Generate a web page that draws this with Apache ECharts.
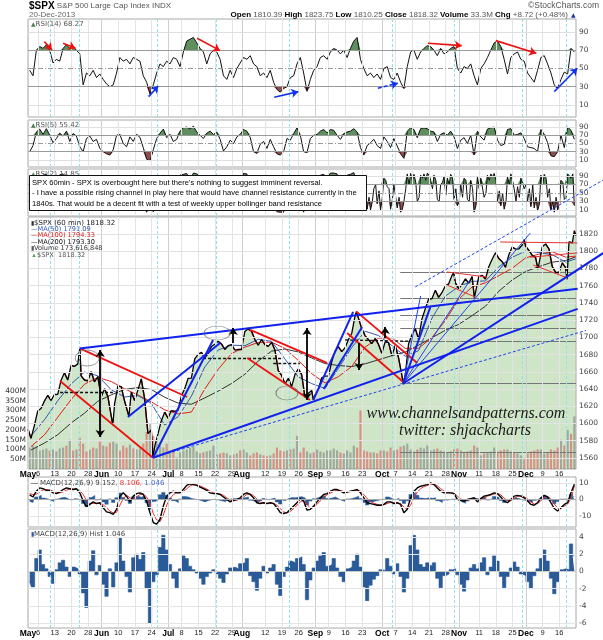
<!DOCTYPE html>
<html><head><meta charset="utf-8">
<script src="https://cdn.jsdelivr.net/npm/echarts@6/dist/echarts.min.js"></script>
<style>html,body{margin:0;padding:0;background:#fff}#c{width:603px;height:640px}</style>
</head><body><div id="c"></div>
<script>
// ---------- DATA (trading-day index 0 = 1 May 2013 ... 163 = 20 Dec 2013) ----------
const tickDays = [0,3,8,13,18,22,27,32,37,42,46,51,56,61,64,71,76,81,86,90,95,100,106,110,115,120,125,129,135,140,145,149,154,159];
const tickLabels = ['May','6','13','20','28','Jun','10','17','24','Jul','8','15','22','29','Aug','12','19','26','Sep','9','16','23','Oct','7','14','21','28','Nov','11','18','25','Dec','9','16'];
const monthNames = ['May','Jun','Jul','Aug','Sep','Oct','Nov','Dec'];
const cyanDays = [6.6,15.3,38.6,56.3,78.1,109,127.5,147.9,161.2];

const closes = [1582.7,1597.6,1614.4,1617.5,1626.0,1632.7,1626.7,1633.7,1633.8,1650.3,
 1658.8,1650.5,1667.5,1666.3,1669.2,1655.4,1650.5,1649.6,1660.1,1648.4,
 1654.4,1630.7,1640.4,1631.4,1608.9,1622.6,1643.4,1642.8,1626.1,1612.5,
 1636.4,1626.7,1639.0,1651.8,1628.9,1588.2,1592.4,1573.1,1588.0,1603.3,
 1613.2,1606.3,1615.0,1614.1,1615.4,1631.9,1640.5,1652.3,1652.6,1675.0,
 1680.2,1682.5,1676.3,1680.9,1689.4,1692.1,1695.5,1692.4,1685.9,1690.3,
 1691.7,1685.3,1686.0,1685.7,1706.9,1709.7,1707.1,1697.4,1690.9,1697.5,
 1691.4,1689.5,1694.2,1685.4,1661.3,1655.8,1646.1,1652.4,1642.8,1657.0,
 1663.5,1656.8,1630.5,1635.0,1638.2,1633.0,1639.8,1653.1,1655.1,1655.2,
 1671.7,1684.0,1689.1,1683.4,1688.0,1697.6,1704.8,1725.5,1722.3,1709.9,
 1701.8,1697.4,1692.8,1698.7,1691.8,1681.6,1695.0,1693.9,1678.7,1690.5,
 1676.1,1655.5,1656.4,1692.6,1703.2,1710.1,1698.1,1721.5,1733.2,1744.5,
 1744.7,1754.7,1746.4,1752.1,1759.8,1762.1,1772.0,1763.3,1756.5,1761.6,
 1767.9,1763.0,1770.5,1747.2,1770.6,1771.9,1767.7,1782.0,1790.6,1798.2,
 1791.5,1787.9,1781.4,1795.9,1804.8,1802.5,1802.8,1807.2,1805.8,1800.9,
 1795.2,1792.8,1785.0,1805.1,1808.4,1802.6,1782.2,1775.5,1775.3,1786.5,
 1781.0,1810.7,1809.6,1818.3];
// intraday extremes [day, price]
const pivots = [[0.05,1593],[15.5,1687.18],[25.4,1598.23],[30.2,1608.07],[37.4,1560.33],[65.8,1709.67],[85.4,1627.47],[98.3,1729.86],[112.3,1646.47],[127.4,1775.22],[133.6,1746.20],[148.5,1813.55],[152.6,1779.09],[161.3,1767.39],[163.5,1823.75]];

const maDays = [0,4,8,12,16,20,24,28,32,36,40,44,48,52,56,60,64,68,72,76,80,84,88,92,96,100,104,108,112,116,120,124,128,132,136,140,144,148,152,156,160,163];
const ma50 = [1585.6,1604.2,1626.4,1645.9,1659.7,1655.4,1639.2,1630.8,1632.4,1623.3,1598.2,1607.9,1631.7,1665.6,1685.3,1691.0,1690.3,1697.7,1695.4,1674.8,1654.1,1646.3,1640.7,1664.0,1688.4,1707.1,1702.1,1690.4,1678.0,1684.6,1722.2,1747.9,1758.9,1765.0,1765.5,1781.8,1792.9,1800.1,1798.5,1795.9,1787.4,1791.1];
const ma100 = [1573.3,1586.7,1607.3,1627.8,1645.6,1653.5,1648.8,1640.3,1633.1,1625.1,1615.9,1611.1,1613.3,1639.9,1662.8,1681.2,1688.6,1694.1,1694.5,1687.1,1673.2,1657.8,1647.1,1654.4,1666.3,1688.7,1699.1,1699.4,1687.2,1687.3,1699.9,1719.5,1744.2,1758.5,1763.3,1771.6,1780.2,1792.2,1796.6,1799.4,1793.1,1794.3];
const ma200 = [1569.2,1577.3,1587.0,1600.6,1612.0,1625.9,1633.2,1639.6,1641.7,1639.4,1630.5,1623.7,1622.4,1629.7,1637.6,1646.4,1657.2,1672.5,1684.0,1686.5,1683.0,1676.0,1669.6,1667.3,1666.1,1669.3,1674.0,1678.7,1683.0,1690.9,1699.6,1708.2,1715.1,1725.2,1736.2,1753.5,1766.6,1776.4,1782.1,1787.3,1789.2,1793.3];

const volumeM = [110,120,115,95,100,105,95,100,90,105,110,120,150,95,100,160,130,90,100,110,105,140,
 120,115,135,140,130,95,120,110,125,105,100,105,130,190,230,170,140,120,110,130,
 90,100,60,85,95,100,110,115,90,80,85,90,95,120,75,80,85,80,70,75,80,95,
 100,85,70,80,85,75,70,65,70,80,110,95,90,95,100,105,170,85,110,90,80,85,
 100,90,85,95,95,105,95,85,80,95,85,120,110,300,95,90,85,85,80,95,
 95,90,110,95,100,115,120,130,100,90,100,110,105,120,95,100,105,95,90,85,90,100,105,
 95,85,90,95,120,110,70,80,85,90,110,90,95,100,100,90,85,80,70,50,
 80,90,95,100,100,80,85,100,95,110,150,120,200,180,270];

const rsi14 = [48,42,70,74,72,76,70,56,60,58, 72,76,72,74,70,66,32,45,42,48, 40,44,38,33,30,32,45,62,58,60,
 55,62,60,58,42,35,22,32,45,55, 52,58,55,62,60,52,68,80,82,84, 78,72,68,55,66,70,68,60,42,38,
 48,40,50,56,62,60,64,55,52,42, 45,40,48,35,27,24,28,30,40,42, 55,62,45,25,38,48,52,62,64,60,
 68,72,70,66,70,62,72,80,84,60, 50,42,45,40,44,38,50,52,40,38, 45,35,28,52,68,70,60,68,72,75,
 74,70,64,72,66,68,72,74,50,45, 52,50,55,42,32,50,55,62,70,78, 80,74,60,44,62,66,68,60,58,45,
 40,35,48,62,64,55,45,32,28,38, 46,44,72,68];
const rsi5 = [30,45,78,85,72,86,70,52,62,75, 68,80,55,74,68,42,30,62,68,55, 60,38,30,25,22,35,70,72,50,42,
 66,55,72,65,40,12,8,35,62,75, 85,64,72,55,60,80,88,90,85,92, 78,70,62,75,80,72,78,60,32,42,
 58,50,66,72,84,80,65,30,26,48, 55,38,60,42,25,22,30,62,58,74, 88,70,30,28,62,70,72,80,84,76,
 84,82,70,60,74,78,80,86,78,40, 22,45,52,60,45,38,66,55,40,62, 44,25,14,80,88,84,64,86,88,86,
 80,78,55,72,76,70,80,66,38,58, 64,50,70,22,80,66,58,85,88,90, 58,45,48,84,86,70,72,76,62,42,
 40,38,30,84,72,52,20,18,30,70, 40,90,82,60];
// RSI(2) end-of-day readings, plus mid-session readings for days 100-163 (the visible part)
const rsi2 = [12,70,90,88,92,94,45,72,65,93, 95,40,90,70,80,25,20,18,70,25, 55,10,60,30,8,55,88,75,25,12,
 85,40,75,90,30,5,20,6,65,85, 92,50,80,60,70,92,94,96,80,97, 95,90,35,70,88,90,92,45,20,65,
 70,25,55,40,96,95,65,20,12,70, 30,25,65,20,6,5,5,55,25,82, 92,40,5,45,65,30,70,92,94,85,
 97,97,95,50,75,92,94,98,70,25, 15,12,10,60,25,10,85,65,12,70, 15,5,30,95,96,94,30,92,95,97,
 80,92,35,70,88,85,94,35,20,70, 85,35,80,5,88,85,40,92,95,96, 30,20,12,88,95,60,65,85,60,30,
 18,15,8,92,94,40,8,5,10,80, 35,95,85,20];
const rsi2MidStart = 100;
const rsi2Mid = [60,45,40,30,70,55,40,80,60,35, 70,40,12,60,70,80,75,40,85,80, 92,60,80,30,75,45,70,85,60,30,
 40,80,30,60,20,60,85,50,80,88, 80,55,50,30,70,92,30,40,88,70, 60,70,40,25,70,85,60,30,40,20, 75,40,90,95];

const macd = [2.8,1.5,5,7,6.5,5.5,5.5,4,3.5,4.5, 6,7,6.5,6,6.5,4,-1,-4.5,-3,-1.5, -2.5,-2,-5,-7.5,-8,-9,-6,2,4,2,
 -1.5,2,3.5,4,3,-1,-8,-14,-15,-12, -4,2,4,5,4,4,6,8.5,9.5,9, 8.5,7.5,6.5,5.5,4,3.5,3.5,3,1.5,0,
 -1.5,-0.5,0,1,3,4,3,1,-2,-2.5, -2,-2.5,-2,-2.5,-5,-8,-8.5,-8,-6,-4, -2,0.5,-1,-6.5,-6,-4,-1.5,1,3,3.5,
 5,6,6,5,4,4.5,5,5.5,6,4, 1,-2,-2.5,-3,-3.5,-3.5,-3,-1.5,-1.5,-2.5, -2,-3,-8,-6,1,5,7,8,8.5,9,
 10,9,7,5,4,4,4,3.5,0,-0.5, -1,0,0.5,1,-1.5,0.5,2,2.5,3,4, 3.5,1.5,-1,-2,0,2,2.5,2,1,-1,
 -3,-3.5,-2,1,2.5,1.5,-2,-5.5,-7,-5, -3,-2,4,9.2];
const signal = [3.5,3.0,3.2,4.5,5.8,6.0,5.7,5.0,4.2,4.0, 4.6,5.6,6.3,6.3,6.2,5.5,3.0,-0.5,-2.5,-2.5, -2.2,-2.2,-3.2,-5.0,-7.0,-8.2,-7.8,-3.5,0.5,2.5,
 1.0,0.2,1.5,3.0,3.3,1.5,-2.5,-8.5,-12.5,-13.5, -9.5,-3.5,0.5,3.0,4.2,4.2,4.8,6.5,8.2,9.0, 8.8,8.2,7.3,6.3,5.0,4.0,3.6,3.3,2.5,1.0,
 -0.5,-0.8,-0.5,0.3,1.5,3.0,3.4,2.3,0.3,-1.6, -2.2,-2.3,-2.2,-2.3,-3.5,-5.5,-7.5,-8.2,-7.2,-5.5, -3.5,-1.5,-0.5,-3.0,-5.2,-4.8,-3.0,-0.8,1.2,2.8,
 3.8,5.0,5.6,5.5,4.8,4.5,4.7,5.0,5.5,5.0, 3.0,0.5,-1.2,-2.3,-3.0,-3.4,-3.2,-2.5,-1.8,-2.0, -2.2,-2.5,-4.5,-6.0,-3.5,1.0,4.5,6.5,7.8,8.5,
 9.2,9.3,8.2,6.5,5.0,4.3,4.0,3.7,2.0,0.3, -0.5,-0.4,0.0,0.5,0.0,-0.3,0.8,2.0,2.6,3.3, 3.6,2.8,0.8,-0.8,-0.8,0.6,1.8,2.2,1.6,0.3,
 -1.6,-2.8,-2.5,-0.8,1.2,1.8,0.2,-2.8,-5.2,-5.5, -4.0,-2.8,0.5,8.1];
const hist = [-1.2,-1.8,1.5,2.5,0.8,0.3,-0.6,-1.4,0.2,1.0, 1.3,0.5,-0.6,0.5,0.3,-0.3,-2.5,-4.2,1.2,2.4, -0.4,0.7,-1.5,-2.9,0.3,-1.8,1.0,3.9,1.2,-0.6,
 -2.4,1.6,2.0,1.4,2.2,-2.0,-6.0,-1.2,-0.4,2.8, 4.2,2.5,0.8,-0.8,-1.9,0.3,1.8,1.5,0.6,0.2, -0.2,-0.8,-1.5,-0.6,-0.2,0.2,-0.3,-0.8,-1.3,-0.3,
 0.4,0.5,0.3,0.9,1.0,1.5,-0.5,-1.2,-2.2,-0.8, 0.6,-0.2,0.4,0.8,-1.5,-2.8,-0.6,0.5,1.2,1.0, 1.5,1.7,0.8,-3.3,-1.0,0.4,1.2,1.8,2.2,0.6,
 0.8,1.5,0.4,-0.6,-1.2,0.3,0.5,1.2,2.0,0.5, -1.8,-3.4,-1.6,-0.9,-0.5,0.2,0.1,1.5,0.6,-0.3, 0.9,-0.6,-2.4,-0.8,3.0,4.2,2.5,0.8,0.5,1.0,
 0.7,1.0,-0.8,-1.9,-0.5,-0.3,0.2,0.3,-0.4,-1.5, -2.3,-1.0,0.4,0.8,0.3,1.0,1.6,-0.4,0.5,1.8, 1.2,-0.6,-1.9,-0.6,0.4,1.1,0.5,-0.3,-0.5,-1.2,
 -2.0,-0.5,0.3,1.5,2.5,1.2,-0.8,-2.6,-1.2,0.2, 0.3,0.2,3.2,1.8];

// annotations in [day, price]
const blueThick = [
 [[15.5,1687.18],[164.5,1756.5]], [[37.4,1560.33],[164.5,1733]], [[37.4,1560.33],[55.4,1697]],
 [[29.9,1607.6],[57.5,1693.5]], [[85.4,1627.47],[97.3,1729.5]], [[88.5,1640],[100,1712]],
 [[112.3,1646.47],[172.2,1798]], [[112.3,1646.47],[120.4,1735]]];
const blueThin = [[[112.3,1646.47],[150.3,1821]], [[112.3,1646.47],[132.3,1766.6]], [[112.3,1646.47],[117.5,1748]]];
const blueDashed = [[[37.4,1560.33],[167,1708]], [[115.9,1758.5],[172.2,1882.7]]];
const redThick = [[[15.5,1687.18],[47.6,1630.8]], [[9.6,1649.4],[37.4,1560.33]], [[66.5,1708.6],[89.5,1670.3]],
 [[65.6,1676],[84.4,1627.3]], [[98.3,1729.86],[116.5,1670.3]], [[95.5,1705],[112.3,1648.2]]];
const redThin = [[[125.4,1775.9],[137.4,1770]], [[125.4,1760.8],[133.8,1746.9]], [[141.3,1810.7],[164.4,1809.6]],
 [[150.3,1793],[164.4,1798]], [[151.2,1784],[161.4,1769]]];
const blackDashed = [[[9.6,1636.6],[25.4,1636.6]], [[52.4,1676],[76.3,1676]], [[73.4,1670.3],[81.4,1670.3]], [[94.9,1697],[114.4,1695.5]]];
const arrowsUp = [[[61.4,1693.5],[61.4,1710.9]], [[106.9,1699.3],[106.9,1712]]];
const arrowsDown = [[[99.1,1693.5],[99.1,1662.1]]];
const arrowsBoth = [[[21.6,1685.4],[21.6,1584.4]], [[83.5,1627.3],[83.5,1710.9]]];
const fibLevels = [['0.0%',1775.31],['23.6%',1744.97],['38.2%',1726.20],['50.0%',1711.04],['61.8%',1695.83],['100.0%',1646.70],['161.8%',1567.22]];
const fibStartDay = 111.4;
const ellipses = [[17.7,1676],[56.6,1705],[77.5,1635.4]];
const valueLabels = [[15.3,1694.6,'1687.18'],[26.9,1656.3,'1648.69'],[16.2,1628.5,'1635.63'],[29.9,1599.5,'1608.07'],
 [25.1,1589,'1598.23'],[37.4,1551.9,'1560.33'],[64.7,1717.9,'1709.67'],[76,1677.2,'1663.50'],[80.8,1619.2,'1627.47'],
 [97.3,1738.7,'1729.86'],[112,1638.9,'1646.47'],[126.6,1785.2,'1775.22'],[133.8,1738.7,'1746.20'],[147.9,1822.3,'1813.55'],
 [151.2,1771.2,'1779.09'],[162,1832.8,'1823.75'],[159.3,1762,'1767.39']];
const rsiRedArrows = [[[4.9,79.4],[7.2,70.3]], [[10.5,77.6],[14.2,72.1]], [[50.6,83.1],[57.5,69.5]], [[119.7,77.6],[129.8,75]], [[140,80.5],[152.1,66.6]]];
const rsiBlueArrows = [[[36.1,19.1],[39,30.8]], [[73.7,18.4],[80.9,24.6]], [[157.5,24.6],[164.4,50.2]]];
const rsiBlueDashedArrows = [[[104.7,28.3],[110.7,33.8]]];

// ---------- CHART ----------
const F = "'DejaVu Sans', sans-serif";
const FL = "'Liberation Sans', Arial, sans-serif";
const DAYS = closes.length;
const chart = echarts.init(document.getElementById('c'), null, {renderer:'canvas'});

const gridBoxes = [[19,98],[120,47],[169,47],[217,252],[477,50],[529,99]];
const grid = gridBoxes.map(b=>({left:28, top:b[0], width:548, height:b[1], show:true, borderColor:'#a8a8a8', borderWidth:1, backgroundColor:'#fff'}));

const xAxis = gridBoxes.map((b,i)=>({type:'value', gridIndex:i, min:0, max:DAYS, interval:1,
  axisLine:{show:false}, axisTick:{show:false}, splitLine:{show:false},
  axisLabel:{show: i===3 || i===5, margin:1, fontSize:7.5, color:'#222', fontFamily:FL,
    formatter:v=>{const k=tickDays.indexOf(Math.round(v)); if(k<0||Math.abs(v-Math.round(v))>1e-6) return ''; const t=tickLabels[k]; return monthNames.includes(t)?'{m|'+t+'}':t;},
    rich:{m:{fontWeight:'bold', fontSize:8.5, color:'#000', fontFamily:FL}}}}));

function yAx(gi, min, max, labels, extra){
  return Object.assign({type:'value', gridIndex:gi, min, max, position:'right', scale:true,
    axisLine:{show:false}, axisTick:{show:false}, splitLine:{show:false},
    axisLabel:{customValues:labels, formatter:v=>String(v), fontSize:7.5, color:'#444', fontFamily:F, margin:3}}, extra||{});
}
const priceTicks = []; for (let v=1560; v<=1820; v+=20) priceTicks.push(v);
const yAxis = [
  yAx(0,-3.2,104.2,[10,30,50,70,90]),
  yAx(1,-7,107,[10,30,50,70,90]),
  yAx(2,-4,106.5,[10,30,50,70,90]),
  yAx(3,1547.2,1839.7,priceTicks),
  yAx(3,0,1292,[50,100,150,200,250,300,350,400],{position:'left', axisLabel:{customValues:[50,100,150,200,250,300,350,400], formatter:v=>v+'M', fontSize:7.5, color:'#333', fontFamily:F, margin:2}}),
  yAx(4,-16.7,13.6,[-10,0,10]),
  yAx(5,-6.58,4.93,[-6,-4,-2,0,2,4])
];

function helper(gi, yi, hLines){
  const v = [];
  tickDays.forEach(d=>v.push({xAxis:d, lineStyle:{color: monthNames.includes(tickLabels[tickDays.indexOf(d)])?'#cfcfcf':'#e4e4e4', width:1, type:'solid'}}));
  cyanDays.forEach(d=>v.push({xAxis:d, lineStyle:{color:'#8fe3ea', width:1, type:[3,2]}}));
  hLines.forEach(h=>v.push({yAxis:h[0], lineStyle:{color:h[1], width:1, type:h[2]||'solid'}}));
  return {type:'line', xAxisIndex:gi, yAxisIndex:yi, data:[[-50,yAxis[yi].min]], showSymbol:false, silent:true, z:1,
    markLine:{silent:true, symbol:'none', label:{show:false}, animation:false, data:v}};
}
const rsiH = [[10,'#e0e0e0'],[90,'#e0e0e0'],[30,'#9a9a9a'],[70,'#9a9a9a'],[50,'#9a9a9a',[5,2,1,2]]];

function rsiSeries(gi, pts){
  return [
    {type:'line', xAxisIndex:gi, yAxisIndex:gi, data:pts.map(p=>[p[0],Math.max(p[1],70)]), showSymbol:false, silent:true,
      lineStyle:{width:0}, areaStyle:{origin:70, color:'#5f8f5f', opacity:1}, z:2},
    {type:'line', xAxisIndex:gi, yAxisIndex:gi, data:pts.map(p=>[p[0],Math.min(p[1],30)]), showSymbol:false, silent:true,
      lineStyle:{width:0}, areaStyle:{origin:30, color:'#8c4f4f', opacity:1}, z:2},
    {type:'line', xAxisIndex:gi, yAxisIndex:gi, data:pts, showSymbol:false, silent:true,
      lineStyle:{color:'#111', width:1}, z:3}
  ];
}
function linesS(gi, yi, segs, color, width, type, sym, z){
  return {type:'lines', coordinateSystem:'cartesian2d', xAxisIndex:gi, yAxisIndex:yi, clip:false, silent:true, z:z||5,
    symbol: sym||'none', symbolSize:7, lineStyle:{color, width, type:type||'solid', opacity:1},
    data: segs.map(c=>({coords:c}))};
}
const dayPts = arr => arr.map((v,i)=>[i+0.5, v]);
const rsi2Pts = dayPts(rsi2).concat(rsi2Mid.map((v,k)=>[rsi2MidStart+k+0.05, v])).sort((a,b)=>a[0]-b[0]);

const pricePts = closes.map((v,i)=>[i+0.9,v]).concat(pivots).sort((a,b)=>a[0]-b[0]);
const downSegs = [];
for (let k=1;k<pricePts.length;k++) if (pricePts[k][1] < pricePts[k-1][1]) downSegs.push([pricePts[k-1], pricePts[k]]);
const maPts = arr => arr.map((v,i)=>[maDays[i]+0.9, v]);

const series = [];
// RSI panels
series.push(helper(0,0,rsiH), ...rsiSeries(0,dayPts(rsi14)));
series.push(linesS(0,0,rsiRedArrows,'#ee1111',1.6,'solid',['none','arrow'],6));
series.push(linesS(0,0,rsiBlueArrows,'#1133ee',1.6,'solid',['none','arrow'],6));
series.push(linesS(0,0,rsiBlueDashedArrows,'#1133ee',1.6,[4,2],['none','arrow'],6));
series.push(helper(1,1,rsiH), ...rsiSeries(1,dayPts(rsi5)));
series.push(helper(2,2,rsiH), ...rsiSeries(2,rsi2Pts));
// price panel
series.push(helper(3,3,priceTicks.map(v=>[v,'#e2e2e2'])));
series.push({type:'line', xAxisIndex:3, yAxisIndex:3, data:pricePts, showSymbol:false, silent:true,
  lineStyle:{width:0}, areaStyle:{color:'rgba(120,180,100,0.5)'}, z:2});
series.push({type:'bar', xAxisIndex:3, yAxisIndex:4, barCategoryGap:'35%', silent:true, z:3,
  data: volumeM.map((v,i)=>({value:[i+0.5,v], itemStyle:{color: (i>0 && closes[i]<closes[i-1])?'rgba(220,90,90,0.6)':'rgba(120,120,120,0.55)'}}))});
series.push({type:'line', xAxisIndex:3, yAxisIndex:3, data:maPts(ma200), showSymbol:false, silent:true, lineStyle:{color:'#333', width:1, type:'solid'}, z:4});
series.push({type:'line', xAxisIndex:3, yAxisIndex:3, data:maPts(ma100), showSymbol:false, silent:true, lineStyle:{color:'#e02020', width:1, type:'solid'}, z:4});
series.push({type:'line', xAxisIndex:3, yAxisIndex:3, data:maPts(ma50), showSymbol:false, silent:true, lineStyle:{color:'#3558b0', width:1, type:'solid'}, z:4});
series.push({type:'line', xAxisIndex:3, yAxisIndex:3, data:pricePts, showSymbol:false, silent:true, lineStyle:{color:'#000', width:1.3}, z:4});
series.push(linesS(3,3,downSegs,'#d81818',1.3,'solid','none',4));
// fib
series.push(linesS(3,3,fibLevels.map(f=>[[fibStartDay,f[1]],[DAYS,f[1]]]),'#777',1,'solid','none',4));
series.push({type:'scatter', xAxisIndex:3, yAxisIndex:3, symbolSize:1, itemStyle:{opacity:0}, silent:true, z:6,
  data: fibLevels.map(f=>({value:[DAYS-0.3,f[1]], name:f[0]+': '+f[1].toFixed(2)})),
  label:{show:true, position:'left', distance:0, offset:[0,-5], formatter:'{b}', fontSize:6.5, color:'#555', fontFamily:F}});
series.push(linesS(3,3,blackDashed,'#111',1.3,[3,2]));
series.push(linesS(3,3,redThin,'#e83030',1));
series.push(linesS(3,3,redThick,'#ee1111',1.8));
series.push(linesS(3,3,blueThin,'#2244ee',1));
series.push(linesS(3,3,blueDashed,'#2244ee',1,[3,2]));
series.push(linesS(3,3,blueThick,'#1122ee',2));
series.push(linesS(3,3,arrowsUp,'#000',1.8,'solid',['none','arrow'],6));
series.push(linesS(3,3,arrowsDown,'#000',1.8,'solid',['none','arrow'],6));
series.push(linesS(3,3,arrowsBoth,'#000',1.8,'solid',['arrow','arrow'],6));
series.push({type:'scatter', xAxisIndex:3, yAxisIndex:3, silent:true, z:6,
  data: ellipses.map((e,i)=>({value:e, symbolSize:[[24,16],[26,14],[22,14]][i]})),
  itemStyle:{color:'rgba(0,0,0,0)', borderColor:'#666', borderWidth:0.8}});
series.push({type:'scatter', xAxisIndex:3, yAxisIndex:3, symbolSize:1, itemStyle:{opacity:0}, silent:true, z:7,
  data: valueLabels.map(l=>({value:[l[0],l[1]], name:l[2]})),
  label:{show:true, position:'inside', formatter:'{b}', fontSize:6.3, color:'#333', fontFamily:F, backgroundColor:'#fff', borderColor:'#888', borderWidth:0.6, borderRadius:2, padding:[1,2]}});
// MACD
series.push(helper(4,5,[[0,'#aaaaaa'],[10,'#e4e4e4'],[-10,'#e4e4e4'],[5,'#efefef'],[-5,'#efefef']]));
series.push({type:'line', step:'middle', xAxisIndex:4, yAxisIndex:5, data:dayPts(hist), showSymbol:false, silent:true, z:2,
  lineStyle:{color:'#2a5a98', width:0.5}, areaStyle:{origin:0, color:'#2a5a98', opacity:1}});
series.push({type:'line', xAxisIndex:4, yAxisIndex:5, data:dayPts(signal), showSymbol:false, silent:true, lineStyle:{color:'#e83030', width:1}, z:3});
series.push({type:'line', xAxisIndex:4, yAxisIndex:5, data:dayPts(macd), showSymbol:false, silent:true, lineStyle:{color:'#000', width:1.4}, z:4});
// Hist
series.push(helper(5,6,[[0,'#cccccc'],[2,'#e4e4e4'],[4,'#e4e4e4'],[-2,'#e4e4e4'],[-4,'#e4e4e4'],[-6,'#e4e4e4']]));
series.push({type:'line', step:'middle', xAxisIndex:5, yAxisIndex:6, data:dayPts(hist), showSymbol:false, silent:true, z:2,
  lineStyle:{color:'#2a5a98', width:0.6}, areaStyle:{origin:0, color:'#2a5a98', opacity:1}});

// ---------- static texts ----------
const G = [];
function txt(x,y,text,st){ G.push({type:'text', x, y, z:100, silent:true,
  style:Object.assign({text, fill:'#444', fontSize:7, fontFamily:F, verticalAlign:'top', textVerticalAlign:'top'}, st||{})}); }
txt(29,1,'{a|$SPX} {b|S&P 500 Large Cap Index INDX}',{rich:{a:{fontSize:10,fontWeight:'bold',fill:'#000',fontFamily:FL},b:{fontSize:8,fill:'#555',fontFamily:FL}}});
txt(29,11,'20-Dec-2013',{fontSize:8,fill:'#666',fontFamily:FL});
txt(599,1,'©StockCharts.com',{fontSize:8.5,fill:'#555',fontFamily:FL,align:'right',textAlign:'right'});
txt(568,11,'{k|Open} {v|1810.39} {k|High} {v|1823.75} {k|Low} {v|1810.25} {k|Close} {v|1818.32} {k|Volume} {v|33.3M} {k|Chg} {v|+8.72 (+0.48%)}',
  {align:'right',textAlign:'right',rich:{k:{fontWeight:'bold',fill:'#000',fontSize:8,fontFamily:FL},v:{fill:'#555',fontSize:8,fontFamily:FL}}});
txt(571,12,'▲',{fontSize:6,fill:'#2233aa'});
const icon = {i:{fill:'#4d7f4d',fontSize:6,fontFamily:F}, t:{fill:'#555',fontSize:7,fontFamily:F}};
txt(31,21,'{i|▲}{t|RSI(14) 68.27}',{rich:icon});
txt(31,122,'{i|▲}{t|RSI(5) 55.42}',{rich:icon});
txt(31,171,'{i|▲}{t|RSI(2) 14.85}',{rich:icon});
// text box
G.push({type:'rect', z:100, silent:true, shape:{x:29.5,y:175.5,width:337,height:35}, style:{fill:'#fff', stroke:'#111', lineWidth:1}});
txt(32,178.5,"SPX 60min - SPX is overbought here but there's nothing to suggest imminent reversal.",{fontSize:7.6,fill:'#000',fontFamily:FL});
txt(32,189,"- I have a possible rising channel in play here that would have channel resistance currently in the",{fontSize:7.6,fill:'#000',fontFamily:FL});
txt(32,199.5,"1840s. That would be a decent fit with a test of weekly upper bollinger band resistance",{fontSize:7.6,fill:'#000',fontFamily:FL});
// price legend
txt(31,219.5,'{i|▮}{t|$SPX (60 min) 1818.32}',{rich:{i:{fill:'#333',fontSize:6},t:{fill:'#222',fontSize:7,fontFamily:F}}});
txt(31,225.8,'—MA(50) 1791.09',{fontSize:6.6,fill:'#3558b0'});
txt(31,232.2,'—MA(100) 1794.33',{fontSize:6.6,fill:'#e02020'});
txt(31,238.6,'—MA(200) 1793.30',{fontSize:6.6,fill:'#111'});
txt(31,245,'{i|▮}{t|Volume 173,616,848}',{rich:{i:{fill:'#555',fontSize:6},t:{fill:'#333',fontSize:6.6,fontFamily:F}}});
txt(31,251.4,'{i|▲}{t|$SPX  1818.32}',{rich:{i:{fill:'#5f9a5f',fontSize:6},t:{fill:'#555',fontSize:6.6,fontFamily:F}}});
// MACD labels
txt(31,479.5,'{l|— }{a|MACD(12,26,9) 9.152, }{r|8.106, }{b|1.046}',{rich:{l:{fill:'#333',fontSize:7},a:{fill:'#444',fontSize:7,fontFamily:F},r:{fill:'#e83030',fontSize:7,fontFamily:F},b:{fill:'#4a6ad0',fontSize:7,fontFamily:F}}});
txt(31,530.5,'{i|▮}{a|MACD(12,26,9) Hist 1.046}',{rich:{i:{fill:'#2a5a98',fontSize:6},a:{fill:'#444',fontSize:7,fontFamily:F}}});
// watermark
G.push({type:'text', x:466, y:414, z:100, silent:true, style:{text:'www.channelsandpatterns.com', fill:'#1a1a1a', fontSize:16, fontStyle:'italic', fontFamily:"'Liberation Serif', serif", align:'center', textAlign:'center', verticalAlign:'middle', textVerticalAlign:'middle'}});
G.push({type:'text', x:465, y:431, z:100, silent:true, style:{text:'twitter: shjackcharts', fill:'#1a1a1a', fontSize:16, fontStyle:'italic', fontFamily:"'Liberation Serif', serif", align:'center', textAlign:'center', verticalAlign:'middle', textVerticalAlign:'middle'}});

chart.setOption({animation:false, backgroundColor:'#fff', grid, xAxis, yAxis, series, graphic:G});
</script></body></html>
